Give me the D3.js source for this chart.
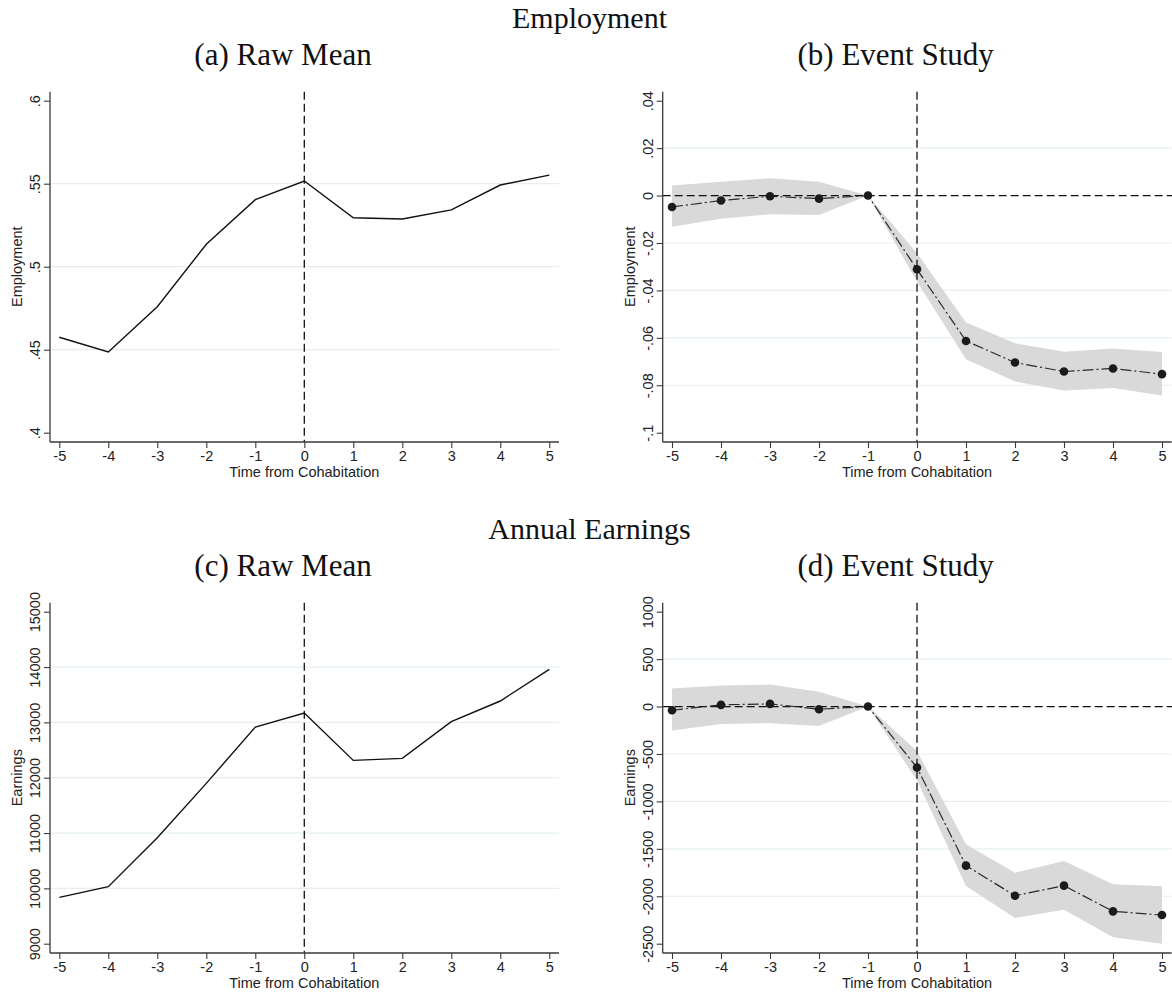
<!DOCTYPE html>
<html>
<head>
<meta charset="utf-8">
<script src="https://cdn.jsdelivr.net/npm/d3@7"></script>
<style>
  body { margin: 0; background: #fff; }
  .titolo { font-family: "Liberation Serif", "Times New Roman", serif; fill: #111; }
  .assi text { font-family: "Liberation Sans", Arial, sans-serif; font-size: 14.5px; fill: #222; }
  .etichetta { font-family: "Liberation Sans", Arial, sans-serif; font-size: 14.5px; fill: #222; }
</style>
</head>
<body>
<script>
"use strict"
// tempo dalla convivenza
const anni = [-5, -4, -3, -2, -1, 0, 1, 2, 3, 4, 5];

// occupazione
const occupazioneMedia = [0.4575, 0.4486, 0.4759, 0.5135, 0.5404, 0.5516, 0.5295, 0.5287, 0.5342, 0.5492, 0.5552];
const occupazioneStima = [-0.0048, -0.0021, -0.0003, -0.0013, 0, -0.0311, -0.0613, -0.0704, -0.0742, -0.0729, -0.0753];
const occupazioneSup = [0.0042, 0.0058, 0.0073, 0.0058, 0, -0.0243, -0.0535, -0.0623, -0.0659, -0.0645, -0.0660];
const occupazioneInf = [-0.0132, -0.0098, -0.0079, -0.0082, 0, -0.0363, -0.0690, -0.0784, -0.0822, -0.0812, -0.0843];

// redditi annuali
const redditoMedio = [9837, 10030, 10916, 11898, 12916, 13169, 12313, 12349, 13012, 13386, 13958];
const redditoStima = [-39, 18, 28, -28, 0, -643, -1677, -1994, -1888, -2159, -2198];
const redditoSup = [190, 222, 232, 155, 0, -468, -1452, -1751, -1628, -1874, -1895];
const redditoInf = [-253, -183, -176, -204, 0, -777, -1892, -2229, -2141, -2433, -2500];

// tick
const tickA = [0.4, 0.45, 0.5, 0.55, 0.6];
const tickB = [-0.1, -0.08, -0.06, -0.04, -0.02, 0, 0.02, 0.04];
const tickC = [9000, 10000, 11000, 12000, 13000, 14000, 15000];
const tickD = [-2500, -2000, -1500, -1000, -500, 0, 500, 1000];

const titoli = ["Employment", "Annual Earnings"];
const sottotitoli = ["(a) Raw Mean", "(b) Event Study", "(c) Raw Mean", "(d) Event Study"];

const svg = d3.select("body").append("svg")
    .attr("width", 1172)
    .attr("height", 994);

// stile Stata: niente zero iniziale
function etichetta(v) {
    return String(v).replace(/^(-?)0\./, "$1.");
}

function pannello(p) {
    const g = svg.append("g");
    const x = d3.scaleLinear().domain([-5, 5]).range([p.left + 9.3, p.left + 499.3]);
    const y = d3.scaleLinear().domain(p.dominio).range([p.top + 341, p.top + 9]);
    const destra = p.left + 509;
    const basso = p.top + 350.3;

    // sottotitolo
    svg.append("text")
        .attr("class", "titolo")
        .attr("x", p.left + 233)
        .attr("y", p.top - 27)
        .attr("text-anchor", "middle")
        .attr("font-size", "31px")
        .text(p.titolo);

    // griglia (senza min e max)
    const griglia = p.ticks.slice(1, -1).filter(function (d) { return !(p.zero && d === 0) });
    g.selectAll(".griglia")
        .data(griglia)
        .enter()
        .append("line")
        .attr("x1", p.left)
        .attr("x2", destra)
        .attr("y1", function (d) { return y(d) })
        .attr("y2", function (d) { return y(d) })
        .attr("stroke", "#e6eff0")
        .attr("stroke-width", 1.2);

    const punti = anni.map(function (a, i) {
        return { t: a, v: p.valori[i], lo: p.inf ? p.inf[i] : null, hi: p.sup ? p.sup[i] : null };
    });

    // intervallo di confidenza
    if (p.inf) {
        const area = d3.area()
            .x(function (d) { return x(d.t) })
            .y0(function (d) { return y(d.lo) })
            .y1(function (d) { return y(d.hi) });
        g.append("path")
            .datum(punti)
            .attr("d", area)
            .attr("fill", "#d9d9d9");
    }

    // linee di riferimento
    if (p.zero) {
        g.append("line")
            .attr("x1", p.left).attr("x2", 1172)
            .attr("y1", y(0)).attr("y2", y(0))
            .attr("stroke", "#111")
            .attr("stroke-width", 1.3)
            .attr("stroke-dasharray", "8,4");
    }
    g.append("line")
        .attr("x1", x(0)).attr("x2", x(0))
        .attr("y1", p.top).attr("y2", basso)
        .attr("stroke", "#111")
        .attr("stroke-width", 1.3)
        .attr("stroke-dasharray", "8,4");

    const linea = d3.line()
        .x(function (d) { return x(d.t) })
        .y(function (d) { return y(d.v) });

    g.append("path")
        .datum(punti)
        .attr("d", linea)
        .attr("fill", "none")
        .attr("stroke", p.inf ? "#2a2a2a" : "#111")
        .attr("stroke-width", p.inf ? 1.2 : 1.4)
        .attr("stroke-dasharray", p.inf ? "11,3,2,3" : null);

    if (p.inf) {
        g.selectAll(".punto")
            .data(punti)
            .enter()
            .append("circle")
            .attr("cx", function (d) { return x(d.t) })
            .attr("cy", function (d) { return y(d.v) })
            .attr("r", 4.3)
            .attr("fill", "#1b1b1b");
    }

    // asse Y
    const asseY = g.append("g")
        .attr("class", "assi")
        .attr("transform", `translate(${p.left},0)`)
        .call(d3.axisLeft(y).tickValues(p.ticks).tickSize(6).tickFormat(etichetta));
    asseY.select(".domain").remove();
    asseY.selectAll(".tick line").attr("stroke", "#3a3a3a").attr("stroke-width", 1.1);
    asseY.selectAll(".tick text")
        .attr("x", 0)
        .attr("dy", 0)
        .attr("text-anchor", "middle")
        .attr("transform", "translate(-10,0) rotate(-90)");

    // asse X
    const asseX = g.append("g")
        .attr("class", "assi")
        .attr("transform", `translate(0,${basso})`)
        .call(d3.axisBottom(x).tickValues(anni).tickSize(6).tickFormat(function (d) { return String(d) }));
    asseX.select(".domain").remove();
    asseX.selectAll(".tick line").attr("stroke", "#3a3a3a").attr("stroke-width", 1.1);

    // linee degli assi
    g.append("line")
        .attr("x1", p.left).attr("x2", p.left)
        .attr("y1", p.top).attr("y2", basso)
        .attr("stroke", "#3a3a3a").attr("stroke-width", 1.3);
    g.append("line")
        .attr("x1", p.left).attr("x2", destra)
        .attr("y1", basso).attr("y2", basso)
        .attr("stroke", "#3a3a3a").attr("stroke-width", 1.3);

    // titoli assi
    g.append("text")
        .attr("class", "etichetta")
        .attr("text-anchor", "middle")
        .attr("transform", `translate(${p.left - 28},${p.top + 175}) rotate(-90)`)
        .text(p.etichettaY);
    g.append("text")
        .attr("class", "etichetta")
        .attr("text-anchor", "middle")
        .attr("x", x(0))
        .attr("y", basso + 34.5)
        .text("Time from Cohabitation");
}

// titoli principali
svg.selectAll(".principale")
    .data(titoli)
    .enter()
    .append("text")
    .attr("class", "titolo")
    .attr("x", 589.5)
    .attr("y", function (d, i) { return 28 + i * 511 })
    .attr("text-anchor", "middle")
    .attr("font-size", "30px")
    .text(function (d) { return d });

pannello({ left: 50, top: 91.7, dominio: [0.4, 0.6], ticks: tickA, valori: occupazioneMedia,
    titolo: sottotitoli[0], etichettaY: "Employment" });
pannello({ left: 662.7, top: 91.7, dominio: [-0.1, 0.04], ticks: tickB, valori: occupazioneStima,
    inf: occupazioneInf, sup: occupazioneSup, zero: true, titolo: sottotitoli[1], etichettaY: "Employment" });
pannello({ left: 50, top: 602.7, dominio: [9000, 15000], ticks: tickC, valori: redditoMedio,
    titolo: sottotitoli[2], etichettaY: "Earnings" });
pannello({ left: 662.7, top: 602.7, dominio: [-2500, 1000], ticks: tickD, valori: redditoStima,
    inf: redditoInf, sup: redditoSup, zero: true, titolo: sottotitoli[3], etichettaY: "Earnings" });
</script>
</body>
</html>
